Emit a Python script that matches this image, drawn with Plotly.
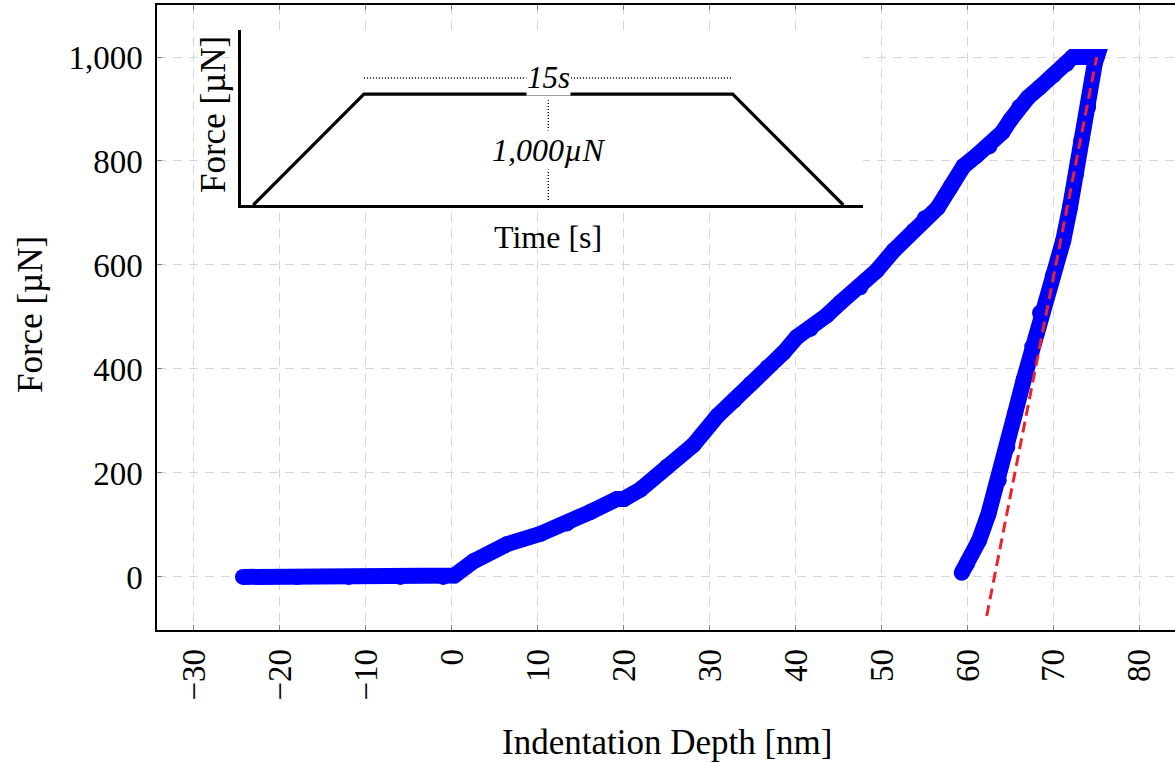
import plotly.graph_objects as go

# ---- data ----
depth_nm = [-24.3, -18, -12, -6, -1.0, 0.3, 2.5, 6.4, 10.3, 13.4, 16.1, 19.2, 20.0, 21.9,
            25.0, 28.1, 30.9, 32.8, 34.7, 36.7, 38.6, 40.1, 41.7, 43.6, 45.2, 47.5,
            49.4, 51.4, 53.7, 55.0, 56.5, 58.0, 59.5, 61.0, 62.5, 64.0, 65.0, 66.0,
            67.0, 68.4, 70.0, 71.5, 72.2, 73.5, 75.0,
            74.8, 74.0, 73.2, 72.6, 71.9, 71.1, 69.9, 68.4, 67.5, 66.5, 65.5, 64.6,
            63.6, 62.4, 61.3, 59.9, 59.3]
force_uN = [0, 0, 0, 0, 0, 3, 30, 63, 83, 103, 125, 150, 150, 168,
            212, 254, 310, 339, 371, 403, 432, 461, 477, 503, 528, 557,
            589, 628, 666, 690, 710, 750, 790, 810, 828, 855, 880, 904,
            922, 942, 965, 987, 1000, 1000, 1000,
            990, 904, 840, 776, 712, 647, 580, 508, 443, 379, 315, 250,
            186, 121, 70, 25, 8]

fit_depth = [62.2, 75.0]
fit_force = [-75, 1000]

x_ticks = [-30, -20, -10, 0, 10, 20, 30, 40, 50, 60, 70, 80]
y_ticks = [0, 200, 400, 600, 800, 1000]

# inset: schematic load function
inset_time = [0.5, 5.0, 20.0, 24.5]
inset_force = [0, 1000, 1000, 0]
hold_label = "15s"
peak_label = "1,000µN"

SERIF = "Liberation Serif"
fig = go.Figure()

fig.add_trace(go.Scatter(
    x=depth_nm, y=force_uN, mode="lines+markers",
    line=dict(color="#0000ff", width=16),
    marker=dict(color="#0000ff", size=16, line=dict(width=0)),
    showlegend=False, hoverinfo="skip"))

fig.add_trace(go.Scatter(
    x=fit_depth, y=fit_force, mode="lines",
    line=dict(color="rgb(235,35,45)", width=3, dash="11px,6px"),
    showlegend=False, hoverinfo="skip"))

# inset trapezoid
fig.add_trace(go.Scatter(
    x=inset_time, y=inset_force, mode="lines", xaxis="x2", yaxis="y2",
    line=dict(color="black", width=3.2), showlegend=False, hoverinfo="skip"))

t_mid = (inset_time[1] + inset_time[2]) / 2
peak = max(inset_force)
# dotted helper lines in the inset
fig.add_trace(go.Scatter(
    x=[inset_time[1], inset_time[2]], y=[peak * 1.145, peak * 1.145], mode="lines",
    xaxis="x2", yaxis="y2", line=dict(color="black", width=1.4, dash="1px,2px"),
    showlegend=False, hoverinfo="skip"))
fig.add_trace(go.Scatter(
    x=[t_mid, t_mid], y=[peak * 0.045, peak * 0.945], mode="lines",
    xaxis="x2", yaxis="y2", line=dict(color="black", width=1.4, dash="1px,2px"),
    showlegend=False, hoverinfo="skip"))

def A(**kw):
    d = dict(showarrow=False, xanchor="center", yanchor="middle")
    d.update(kw)
    return d

ann = [
    A(x=t_mid, y=peak * 1.145, xref="x2", yref="y2", text=hold_label,
      font=dict(family=SERIF, size=31, color="black", style="italic"),
      bgcolor="white", borderpad=0),
    A(x=t_mid, y=peak * 0.5, xref="x2", yref="y2", text=peak_label,
      font=dict(family=SERIF, size=32, color="black", style="italic"),
      bgcolor="white", borderpad=1),
    A(x=t_mid, y=(630 - 237) / 625, xref="x2", yref="paper", text="Time [s]",
      font=dict(family=SERIF, size=32, color="black")),
    A(x=(213 - 157) / 1018, y=(630 - 115) / 625, xref="paper", yref="paper",
      text="Force [µN]", textangle=-90,
      font=dict(family=SERIF, size=35, color="black")),
    # main axis titles
    A(x=(667 - 157) / 1018, y=(630 - 742) / 625, xref="paper", yref="paper",
      text="Indentation Depth [nm]",
      font=dict(family=SERIF, size=35, color="black")),
    A(x=(30 - 157) / 1018, y=(630 - 315) / 625, xref="paper", yref="paper",
      text="Force [µN]", textangle=-90,
      font=dict(family=SERIF, size=35, color="black")),
]

fig.update_layout(
    width=1175, height=763,
    margin=dict(l=157, r=0, t=5, b=133),
    paper_bgcolor="white", plot_bgcolor="white",
    annotations=ann,
    xaxis=dict(range=[-34.3, 84.1], tickvals=x_ticks, tickangle=-90,
               showgrid=True, gridcolor="#d6d6d6", griddash="9px,7px", gridwidth=1.2,
               zeroline=False, showline=True, linecolor="black", linewidth=1.5,
               mirror="ticks", ticks="inside", ticklen=5, tickcolor="#808080",
               tickfont=dict(family=SERIF, size=33, color="black"),
               ticklabelstandoff=4),
    yaxis=dict(range=[-102, 1100], tickvals=y_ticks, tickformat=",d",
               showgrid=True, gridcolor="#d6d6d6", griddash="9px,7px", gridwidth=1.2,
               zeroline=False, showline=True, linecolor="black", linewidth=1.5,
               mirror=False, ticks="inside", ticklen=5, tickcolor="#808080",
               tickfont=dict(family=SERIF, size=33, color="black"),
               ticklabelstandoff=6),
    xaxis2=dict(domain=[(241 - 157) / 1018, (863 - 157) / 1018], anchor="y2",
                range=[0, 25.3], showgrid=False, zeroline=False, showticklabels=False,
                ticks="", showline=True, linecolor="black", linewidth=3),
    yaxis2=dict(domain=[(630 - 205) / 625, (630 - 30) / 625], anchor="x2",
                range=[0, 1577], showgrid=False, zeroline=False, showticklabels=False,
                ticks="", showline=True, linecolor="black", linewidth=3),
)

fig.write_html("out.html")
